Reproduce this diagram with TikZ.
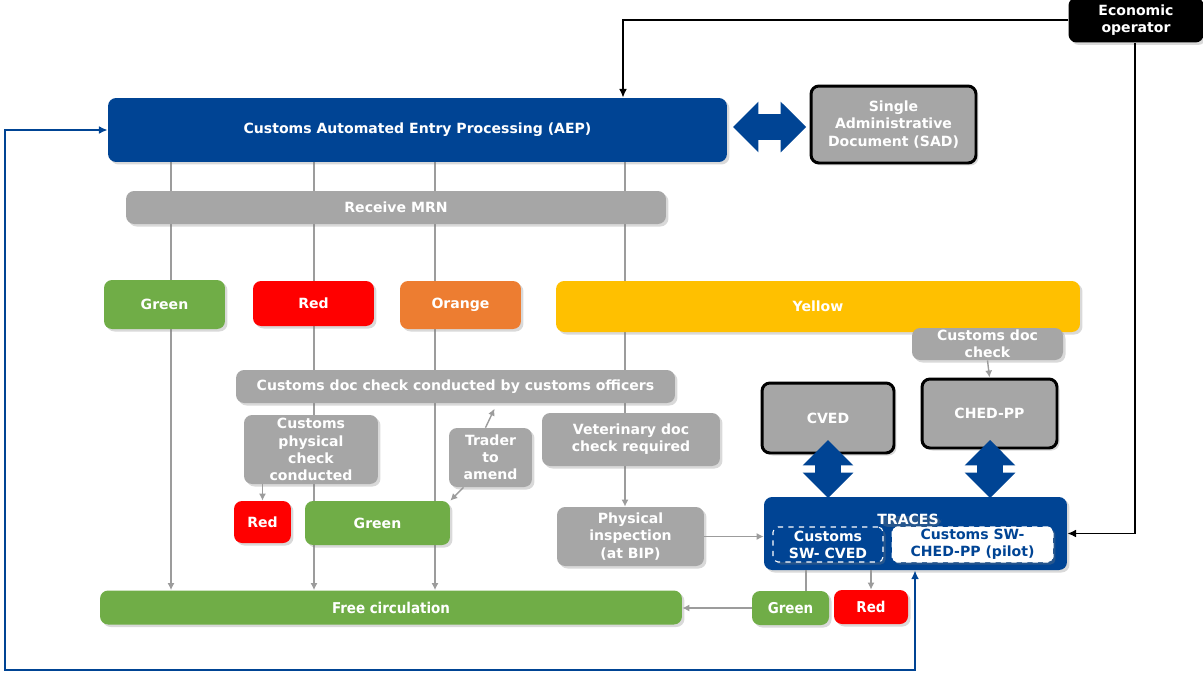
\documentclass[tikz,border=0pt]{standalone}
\usepackage{fontspec}
\setmainfont{DejaVu Sans}
\newfontfamily\condfont{DejaVu Sans Condensed}
\usetikzlibrary{arrows.meta,shapes.arrows,shadows,backgrounds,calc}
\definecolor{aepblue}{HTML}{004494}
\definecolor{boxgrey}{HTML}{A6A6A6}
\definecolor{linegrey}{HTML}{9C9C9C}
\definecolor{okgreen}{HTML}{70AD47}
\definecolor{stopred}{HTML}{FF0000}
\definecolor{midorange}{HTML}{ED7D31}
\definecolor{vetyellow}{HTML}{FFC000}
\tikzset{
  box/.style={rounded corners=0.16cm, inner sep=0pt, align=center, text=white,
    font=\fontsize{8}{9.8}\selectfont\bfseries,
    drop shadow={shadow xshift=0.05cm, shadow yshift=-0.05cm, opacity=0.3}},
  condbox/.style={box, font=\condfont\fontsize{8.5}{10}\selectfont\bfseries},
  greybox/.style={box, fill=boxgrey},
  bluebox/.style={box, fill=aepblue},
  blackbox/.style={box, fill=black},
  greenbox/.style={box, fill=okgreen},
  redbox/.style={box, fill=stopred},
  sysbox/.style={box, fill=boxgrey, draw=black, line width=1.7pt},
  swbox/.style={box, rounded corners=0.1cm, draw=white, dashed, line width=0.6pt, drop shadow={opacity=0}},
  bigarrow/.style={double arrow, fill=aepblue, inner xsep=0pt, inner ysep=0.25cm,
    minimum width=1cm, double arrow head extend=0.25cm},
  flow/.style={draw=linegrey, line width=0.8pt, -{Latex[length=4pt,width=4pt]}},
  plainline/.style={draw=linegrey, line width=0.8pt},
  oparrow/.style={draw=black, line width=0.9pt, -{Latex[length=5pt,width=4.5pt]}},
  looparrow/.style={draw=aepblue, line width=1pt, {Latex[length=5pt,width=4.5pt]}-{Latex[length=5pt,width=4.5pt]}}
}
\begin{document}
\begin{tikzpicture}[x=0.02cm,y=-0.02cm]
\useasboundingbox (0,0) rectangle (1203,673);
\path (1136,20) node[blackbox, minimum width=2.7cm, minimum height=0.9cm](econ){Economic\\operator}
 (417.5,130) node[bluebox, minimum width=12.38cm, minimum height=1.28cm](aep){Customs Automated Entry Processing (AEP)}
 (893.5,124.5) node[sysbox, minimum width=3.3cm, minimum height=1.54cm](sad){Single\\Administrative\\Document (SAD)}
 (396,207.5) node[greybox, minimum width=10.8cm, minimum height=0.66cm](mrn){Receive MRN}
 (164.5,304.5) node[greenbox, minimum width=2.42cm, minimum height=0.98cm](green){Green}
 (313.5,303.5) node[redbox, minimum width=2.42cm, minimum height=0.9cm](red){Red}
 (460.5,305) node[box, fill=midorange, minimum width=2.42cm, minimum height=0.96cm](orange){Orange}
 (818,306.5) node[box, fill=vetyellow, minimum width=10.48cm, minimum height=1.02cm](yellow){Yellow}
 (987.5,344) node[greybox, minimum width=3.02cm, minimum height=0.64cm](docyellow){Customs doc\\check}
 (828,418) node[sysbox, minimum width=2.64cm, minimum height=1.4cm](cved){CVED}
 (989.5,413.5) node[sysbox, minimum width=2.7cm, minimum height=1.38cm](ched){CHED-PP}
 (915.5,533.5) node[bluebox, minimum width=6.06cm, minimum height=1.46cm](traces){}
 (455.5,386.5) node[greybox, minimum width=8.78cm, minimum height=0.66cm](docorange){Customs doc check conducted by customs officers}
 (311,449.5) node[greybox, minimum width=2.68cm, minimum height=1.38cm](physcheck){Customs\\physical\\check\\conducted}
 (490.5,457.5) node[greybox, minimum width=1.66cm, minimum height=1.18cm](trader){Trader\\to\\amend}
 (631,439.5) node[greybox, minimum width=3.56cm, minimum height=1.06cm](vet){Veterinary doc\\check required}
 (262.5,522) node[redbox, minimum width=1.14cm, minimum height=0.84cm](redcheck){Red}
 (377.5,523) node[greenbox, minimum width=2.9cm, minimum height=0.88cm](greencheck){Green}
 (630.5,536.5) node[greybox, minimum width=2.94cm, minimum height=1.18cm](bip){Physical\\inspection\\(at BIP)}
 (391,607.5) node[condbox, fill=okgreen, minimum width=11.64cm, minimum height=0.68cm](free){Free circulation}
 (790.5,608) node[condbox, fill=okgreen, minimum width=1.54cm, minimum height=0.68cm](greentraces){Green}
 (871,607) node[condbox, fill=stopred, minimum width=1.48cm, minimum height=0.68cm](redtraces){Red};
\node[box, drop shadow={opacity=0}] (tracestitle) at (908,519) {TRACES};
\node[swbox, fill=aepblue, minimum width=2.2cm, minimum height=0.7cm] (swcved) at (828,544.5) {Customs\\SW- CVED};
\node[swbox, fill=white, text=aepblue, minimum width=3.22cm, minimum height=0.7cm] (swched) at (972.5,544.5) {Customs SW-\\CHED-PP (pilot)};
\node[bigarrow, minimum height=1.46cm] (aepsad) at (769.5,127) {};
\node[bigarrow, minimum height=1.16cm, rotate=90] (cvedtraces) at (828,469) {};
\node[bigarrow, minimum height=1.16cm, rotate=90] (chedtraces) at (990,469) {};

\coordinate (l1) at (171,0);
\coordinate (l2) at (314,0);
\coordinate (l3) at (435,0);
\coordinate (l4) at (625,0);
\coordinate (l5) at (623,0);
\coordinate (l6) at (1135,0);
\coordinate (l7) at (806,0);
\coordinate (l8) at (915,0);
\coordinate (loop) at (5,670);

\begin{scope}[on background layer]
\draw[flow] (aep.south -| l1) -- (free.north -| l1);
\draw[flow] (aep.south -| l2) -- (free.north -| l2);
\draw[flow] (aep.south -| l3) -- (free.north -| l3);
\draw[flow] (aep.south -| l4) -- (bip.north -| l4);
\end{scope}
\draw[flow] (physcheck.south -| redcheck) -- (redcheck.north);
\draw[flow] ($(trader.north)+(-5,0)$) -- ++(9,-19);
\draw[flow] ($(trader.south)+(-27,0)$) -- (greencheck.north east);
\draw[flow] (docyellow.south) -- (ched.north);
\draw[flow] (bip.east) -- (bip.east -| traces.west);
\draw[plainline] (traces.south -| l7) -- (greentraces.north -| l7);
\draw[flow] (traces.south -| redtraces) -- (redtraces.north);
\draw[flow] (greentraces.west) -- (greentraces.west -| free.east);
\draw[oparrow] (econ.west) -| (aep.north -| l5);
\draw[oparrow] (econ.south -| l6) |- (traces.east);
\draw[looparrow] (aep.west) -| (loop) -| (traces.south -| l8);
\end{tikzpicture}
\end{document}
